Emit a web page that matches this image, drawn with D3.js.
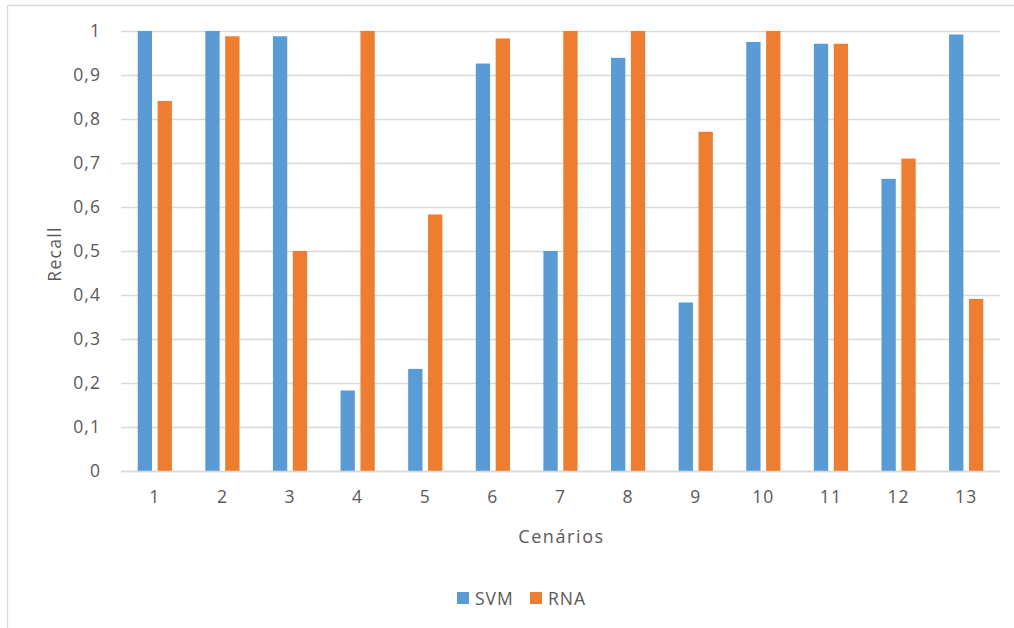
<!DOCTYPE html>
<html>
<head>
<meta charset="utf-8">
<script src="https://cdn.jsdelivr.net/npm/d3@7"></script>
<style>
  html, body { margin: 0; padding: 0; background: #fff; }
  svg { display: block; }
  text { font-family: "Open Sans", "Noto Sans", sans-serif; fill: #595959; }
</style>
</head>
<body>
<svg id="chart" width="1014" height="628"></svg>
<script>
// Recall per scenario for the two classifiers
const cenarios = ["1", "2", "3", "4", "5", "6", "7", "8", "9", "10", "11", "12", "13"];
const series = ["SVM", "RNA"];
const svmRecall = [1.0, 1.0, 0.988, 0.183, 0.232, 0.926, 0.5, 0.939, 0.383, 0.975, 0.971, 0.664, 0.992];
const rnaRecall = [0.841, 0.988, 0.5, 1.0, 0.583, 0.983, 1.0, 1.0, 0.771, 1.0, 0.971, 0.71, 0.391];
const yTicks = [0, 0.1, 0.2, 0.3, 0.4, 0.5, 0.6, 0.7, 0.8, 0.9, 1];
const colors = ["#5B9BD5", "#ED7D31"];

const values = { SVM: svmRecall, RNA: rnaRecall };
const rows = cenarios.map((c, i) => ({ c, SVM: values.SVM[i], RNA: values.RNA[i] }));

const svg = d3.select("#chart");
const plot = { left: 121, right: 1000, top: 31, bottom: 471 };

// chart frame (top and left edges visible)
svg.append("line").attr("x1", 7.5).attr("x2", 1014).attr("y1", 5.5).attr("y2", 5.5)
  .attr("stroke", "#D9D9D9").attr("stroke-width", 1.3);
svg.append("line").attr("x1", 7.5).attr("x2", 7.5).attr("y1", 5.5).attr("y2", 628)
  .attr("stroke", "#D9D9D9").attr("stroke-width", 1.3);

const x = d3.scaleBand().domain(cenarios).range([plot.left, plot.right]).paddingInner(0).paddingOuter(0);
const outerGap = x.bandwidth() * 0.247;
const xs = d3.scaleBand().domain(series)
  .range([outerGap, x.bandwidth() - outerGap]).paddingInner(0.28).paddingOuter(0);
const y = d3.scaleLinear().domain([0, 1]).range([plot.bottom, plot.top]);

// horizontal gridlines with value labels
const yAxis = d3.axisLeft(y).tickValues(yTicks)
  .tickSize(-(plot.right - plot.left))
  .tickPadding(20)
  .tickFormat(d => d3.format("~g")(d).replace(".", ","));
const gy = svg.append("g").attr("transform", `translate(${plot.left},0)`).call(yAxis);
gy.select(".domain").remove();
gy.selectAll(".tick line").attr("stroke", "#D9D9D9").attr("stroke-width", 1.3);
gy.selectAll(".tick text").attr("font-size", 17.5).attr("letter-spacing", 1.1)
  .style("fill", "#595959").attr("font-family", "Open Sans");

// bars
const groups = svg.append("g").selectAll("g").data(rows).join("g")
  .attr("transform", d => `translate(${x(d.c)},0)`);
groups.selectAll("rect").data(d => series.map((s, k) => ({ s, k, v: d[s] }))).join("rect")
  .attr("x", d => xs(d.s))
  .attr("width", xs.bandwidth())
  .attr("y", d => y(d.v))
  .attr("height", d => y(0) - y(d.v))
  .attr("fill", d => colors[d.k]);

// category axis
const xAxis = d3.axisBottom(x).tickSize(0).tickPadding(20);
const gx = svg.append("g").attr("transform", `translate(0,${plot.bottom})`).call(xAxis);
gx.select(".domain").attr("stroke", "#D9D9D9").attr("stroke-width", 1.3);
gx.selectAll(".tick text").attr("font-size", 17.5).attr("letter-spacing", 1.1)
  .style("fill", "#595959").attr("font-family", "Open Sans");

// axis titles
svg.append("text").attr("x", (plot.left + plot.right) / 2 + 1).attr("y", 543)
  .attr("text-anchor", "middle").attr("font-size", 18).attr("letter-spacing", 1.6)
  .text("Cenários");
svg.append("text")
  .attr("transform", `translate(61,${(plot.top + plot.bottom) / 2 + 3}) rotate(-90)`)
  .attr("text-anchor", "middle").attr("font-size", 17.5).attr("letter-spacing", 1.3)
  .text("Recall");

// legend
const legendX = [457, 530];
const legend = svg.append("g").selectAll("g").data(series).join("g")
  .attr("transform", (d, i) => `translate(${legendX[i]},592)`);
legend.append("rect").attr("width", 12).attr("height", 12).attr("fill", (d, i) => colors[i]);
legend.append("text").attr("x", 18).attr("y", 12.5).attr("font-size", 17.5)
  .attr("letter-spacing", 1).text(d => d);
</script>
</body>
</html>
